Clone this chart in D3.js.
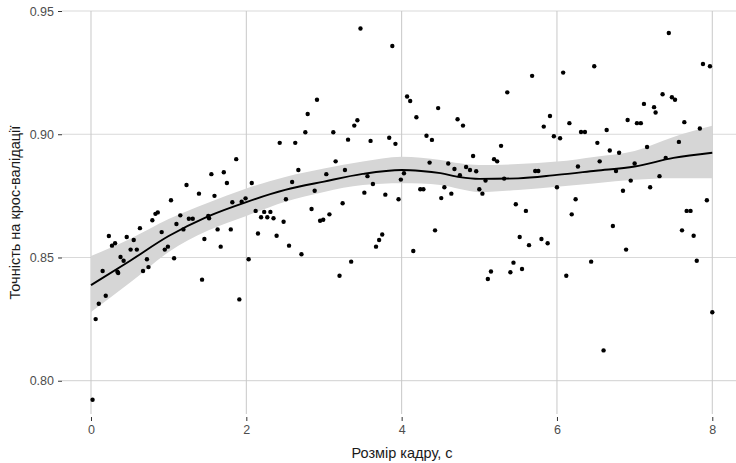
<!DOCTYPE html>
<html>
<head>
<meta charset="utf-8">
<script src="https://cdn.jsdelivr.net/npm/d3@7"></script>
<style>
  html, body { margin: 0; padding: 0; background: #ffffff; }
  svg { display: block; font-family: "Liberation Sans", Arial, sans-serif; }
</style>
</head>
<body>
<svg id="chart" width="736" height="463"></svg>
<script>
// ---- Data ----
const pointX = [0.02,0.06,0.10,0.19,0.15,0.23,0.27,0.31,0.34,0.35,0.38,0.42,0.46,0.51,0.55,0.59,0.63,0.67,0.72,0.74,
0.79,0.83,0.86,0.91,0.95,0.99,1.03,1.07,1.10,1.15,1.19,1.23,1.26,1.31,1.39,1.43,1.46,1.51,1.52,1.55,
1.59,1.63,1.67,1.71,1.75,1.80,1.82,1.87,1.91,1.94,1.99,2.03,2.07,2.12,2.15,2.19,2.23,2.27,2.31,2.35,
2.39,2.48,2.51,2.55,2.59,2.67,2.71,2.84,2.88,2.95,2.99,3.03,3.07,3.15,3.20,3.24,3.27,3.35,3.52,3.56,
3.63,3.67,3.71,3.75,3.79,3.96,3.99,4.03,4.15,4.24,4.28,4.36,4.43,4.51,4.55,4.60,4.64,4.68,4.75,4.83,
4.88,4.92,4.96,5.00,5.04,5.08,5.11,5.15,2.43,2.63,2.76,2.79,2.91,3.12,3.31,3.39,3.43,3.47,3.60,3.84,
3.88,3.92,4.07,4.11,4.19,4.32,4.39,4.47,4.72,4.79,5.19,5.23,5.28,5.36,5.68,5.83,5.91,5.96,6.04,6.08,
6.16,6.31,6.36,6.48,6.52,6.64,6.68,6.80,6.91,7.03,7.08,7.12,7.16,7.25,7.27,7.36,7.40,7.44,7.48,7.52,
7.57,7.64,7.84,7.88,7.97,5.32,5.47,5.52,5.60,5.64,5.72,5.76,5.80,5.88,6.00,5.44,5.40,5.55,6.12,6.19,
6.24,6.27,6.44,6.55,6.72,6.76,6.85,6.89,6.95,7.00,7.20,7.32,7.61,7.67,7.72,7.76,7.80,7.93,6.60,8.00];
const pointY = [0.7923,0.8250,0.8312,0.8345,0.8445,0.8587,0.8548,0.8558,0.8442,0.8437,0.8502,0.8487,0.8583,0.8532,0.8571,0.8532,0.8619,0.8445,0.8493,0.8461,
0.8651,0.8677,0.8683,0.8603,0.8532,0.8544,0.8732,0.8497,0.8636,0.8671,0.8614,0.8794,0.8657,0.8657,0.8759,0.8410,0.8575,0.8668,0.8659,0.8838,
0.8750,0.8614,0.8544,0.8846,0.8802,0.8614,0.8724,0.8899,0.8330,0.8726,0.8740,0.8493,0.8802,0.8689,0.8597,0.8663,0.8685,0.8663,0.8685,0.8659,
0.8588,0.8645,0.8736,0.8548,0.8806,0.8855,0.8513,0.8697,0.8771,0.8649,0.8653,0.8838,0.8675,0.8890,0.8426,0.8720,0.8855,0.8483,0.8763,0.8830,
0.8798,0.8544,0.8571,0.8593,0.8755,0.8736,0.8816,0.8842,0.8526,0.8777,0.8777,0.8885,0.8610,0.8741,0.8785,0.8881,0.8759,0.8859,0.8834,0.8867,
0.8855,0.8912,0.8850,0.8777,0.8759,0.8812,0.8413,0.8443,0.8965,0.8965,0.9008,0.9082,0.9140,0.9008,0.8978,0.9035,0.9057,0.9429,0.8973,0.8986,
0.9358,0.8961,0.9153,0.9135,0.9069,0.8994,0.8977,0.9106,0.9061,0.9035,0.8899,0.8890,0.8953,0.9170,0.9237,0.9031,0.9074,0.8992,0.8984,0.9250,
0.9045,0.9009,0.9009,0.9276,0.8965,0.9017,0.8934,0.8925,0.9058,0.9045,0.9045,0.9123,0.8948,0.9110,0.9088,0.9162,0.8904,0.9411,0.9150,0.9140,
0.8969,0.9049,0.9023,0.9285,0.9276,0.8820,0.8716,0.8583,0.8689,0.8550,0.8851,0.8851,0.8575,0.8558,0.8785,0.8479,0.8440,0.8453,0.8426,0.8675,
0.8736,0.8869,0.8483,0.8890,0.8628,0.8851,0.8771,0.8532,0.8812,0.8881,0.8785,0.8830,0.8610,0.8689,0.8689,0.8588,0.8487,0.8732,0.8123,0.8278];

const smoothX     = [0, 0.5, 1, 1.5, 2, 2.5, 3, 3.5, 4, 4.25, 4.5, 4.75, 5, 5.5, 6, 6.5, 7, 7.5, 8];
const smoothFit   = [0.8388,0.8486,0.8587,0.8666,0.8725,0.8774,0.8808,0.8839,0.8855,0.8851,0.8842,0.8826,0.8819,0.8821,0.8835,0.8852,0.8869,0.8904,0.8925];
const smoothLower = [0.8279,0.8397,0.8522,0.8608,0.8668,0.8726,0.8766,0.8794,0.8801,0.8800,0.8794,0.8778,0.8765,0.8774,0.8787,0.8801,0.8815,0.8821,0.8821];
const smoothUpper = [0.8506,0.8575,0.8656,0.8721,0.8780,0.8827,0.8861,0.8889,0.8909,0.8905,0.8896,0.8882,0.8875,0.8879,0.8889,0.8909,0.8932,0.8989,0.9034];

const xTicks = [0, 2, 4, 6, 8];
const yTicks = [0.80, 0.85, 0.90, 0.95];
const xTitle = "Розмір кадру, с";
const yTitle = "Точність на крос-валідації";

// ---- Layout ----
const svg = d3.select("#chart");
const panel = { left: 62, right: 736, top: 11, bottom: 414 };

const x = d3.scaleLinear().domain([-0.3734, 8.3053]).range([panel.left, panel.right]);
const y = d3.scaleLinear().domain([0.7865, 0.95]).range([panel.bottom, panel.top]);

// gridlines
const grid = svg.append("g");
grid.selectAll("line.h").data(yTicks).enter().append("line")
  .attr("x1", panel.left).attr("x2", panel.right)
  .attr("y1", d => y(d)).attr("y2", d => y(d))
  .attr("stroke", "#d9d9d9").attr("stroke-width", 1.2);
grid.selectAll("line.v").data(xTicks).enter().append("line")
  .attr("x1", d => x(d)).attr("x2", d => x(d))
  .attr("y1", panel.top).attr("y2", panel.bottom)
  .attr("stroke", "#c8c8c8").attr("stroke-width", 1);

// axes
const xAxis = d3.axisBottom(x).tickValues(xTicks).tickFormat(d3.format("d")).tickSizeInner(4).tickSizeOuter(0).tickPadding(4);
const gx = svg.append("g").attr("transform", `translate(0,${panel.bottom + 3})`).call(xAxis);
gx.select(".domain").remove();
gx.selectAll(".tick line").attr("stroke", "#333333");
gx.selectAll(".tick text").attr("fill", "#4d4d4d").attr("font-size", "12.5px").attr("font-family", "Liberation Sans, Arial, sans-serif");

const yAxis = d3.axisLeft(y).tickValues(yTicks).tickFormat(d3.format(".2f")).tickSizeInner(4).tickSizeOuter(0).tickPadding(4);
const gy = svg.append("g").attr("transform", `translate(${panel.left},0)`).call(yAxis);
gy.select(".domain").remove();
gy.selectAll(".tick line").attr("stroke", "#333333");
gy.selectAll(".tick text").attr("fill", "#4d4d4d").attr("font-size", "12.5px").attr("font-family", "Liberation Sans, Arial, sans-serif");

// confidence band
const area = d3.area()
  .x((d, i) => x(smoothX[i]))
  .y0((d, i) => y(smoothLower[i]))
  .y1((d, i) => y(smoothUpper[i]))
  .curve(d3.curveMonotoneX);
svg.append("path").datum(smoothX).attr("d", area).attr("fill", "#d6d6d6");

// points
svg.append("g").selectAll("circle").data(pointX).enter().append("circle")
  .attr("cx", (d, i) => x(pointX[i]))
  .attr("cy", (d, i) => y(pointY[i]))
  .attr("r", 2.2)
  .attr("fill", "#000000");

// smooth line
const line = d3.line()
  .x((d, i) => x(smoothX[i]))
  .y((d, i) => y(smoothFit[i]))
  .curve(d3.curveMonotoneX);
svg.append("path").datum(smoothX).attr("d", line)
  .attr("fill", "none").attr("stroke", "#000000").attr("stroke-width", 1.9);

// titles
svg.append("text").attr("x", 402).attr("y", 458)
  .attr("text-anchor", "middle").attr("font-size", "14.5px").attr("fill", "#1a1a1a")
  .text(xTitle);
svg.append("text")
  .attr("transform", `translate(20,${(panel.top + panel.bottom) / 2}) rotate(-90)`)
  .attr("text-anchor", "middle").attr("font-size", "14.5px").attr("fill", "#1a1a1a")
  .text(yTitle);
</script>
</body>
</html>
